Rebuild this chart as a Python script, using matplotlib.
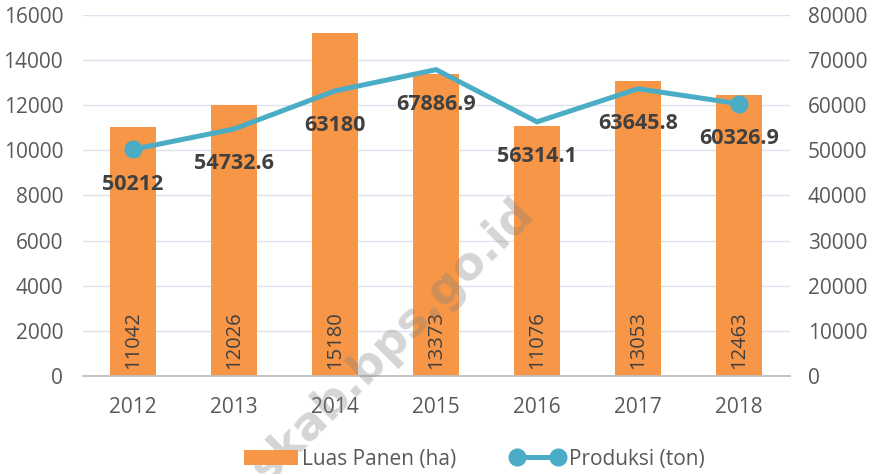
import matplotlib.pyplot as plt
from matplotlib.lines import Line2D
from matplotlib.patches import Patch

years = ["2012", "2013", "2014", "2015", "2016", "2017", "2018"]
luas_panen = [11042, 12026, 15180, 13373, 11076, 13053, 12463]
produksi = [50212, 54732.6, 63180, 67886.9, 56314.1, 63645.8, 60326.9]
produksi_labels = ["50212", "54732.6", "63180", "67886.9", "56314.1", "63645.8", "60326.9"]

BAR_COLOR = "#F79646"
LINE_COLOR = "#4BACC6"
TICK_COLOR = "#595959"
LABEL_COLOR = "#404040"
GRID_COLOR = "#DCE3EF"

plt.rcParams["font.family"] = ["Open Sans", "DejaVu Sans"]

fig = plt.figure(figsize=(8.76, 4.74), dpi=100)
ax = fig.add_axes([0.0942, 0.2068, 0.8071, 0.7616])
ax2 = ax.twinx()

x = list(range(len(years)))
ax.bar(x, luas_panen, width=0.455, color=BAR_COLOR, zorder=2)
for xi, v in zip(x, luas_panen):
    ax.text(xi, 330, str(v), rotation=90, ha="center", va="bottom",
            fontsize=14.5, color=LABEL_COLOR, zorder=3)

ax.set_xlim(-0.5, len(years) - 0.5)
ax.set_ylim(0, 16000)
ax.set_yticks(range(0, 16001, 2000))
ax.set_xticks(x)
ax.set_xticklabels(years)
ax.grid(axis="y", color=GRID_COLOR, linewidth=1, zorder=0)
ax.set_axisbelow(True)
for side in ["top", "left", "right"]:
    ax.spines[side].set_visible(False)
ax.spines["bottom"].set_color("#BFBFBF")
ax.spines["bottom"].set_linewidth(1.3)
ax.tick_params(axis="both", length=0, labelsize=15, colors=TICK_COLOR)
ax.tick_params(axis="x", pad=15)
ax.tick_params(axis="y", pad=14)

ax2.plot(x, produksi, color=LINE_COLOR, linewidth=3.6, marker="o",
         markersize=12, markevery=[0, len(x) - 1], zorder=4,
         solid_joinstyle="miter")
for xi, v, lab in zip(x, produksi, produksi_labels):
    ax2.annotate(lab, xy=(xi, v), xytext=(0, -25), textcoords="offset points",
                 ha="center", va="center", fontsize=15.5, fontweight="bold",
                 color=LABEL_COLOR, zorder=5)
ax2.set_ylim(0, 80000)
ax2.set_yticks(range(0, 80001, 10000))
for side in ["top", "left", "right", "bottom"]:
    ax2.spines[side].set_visible(False)
ax2.tick_params(axis="y", length=0, labelsize=15, colors=TICK_COLOR, pad=13)

# watermark, runs off the bottom edge like in the source image
fig.text(527 / 876, 1 - 206 / 474, "skab.bps.go.id", rotation=45,
         rotation_mode="anchor", ha="right", va="center", fontsize=33,
         fontweight="bold", color="#808080", alpha=0.33,
         family="DejaVu Sans", zorder=3)

handles = [
    Patch(facecolor=BAR_COLOR, edgecolor="none"),
    Line2D([0], [0], color=LINE_COLOR, linewidth=3.6, marker="o",
           markersize=12),
]
leg = fig.legend(handles, ["Luas Panen (ha)", "Produksi (ton)"],
                 loc="center", bbox_to_anchor=(474 / 876, 1 - 459 / 474),
                 ncol=2, frameon=False, fontsize=15, labelcolor=TICK_COLOR,
                 numpoints=2, handlelength=2.6, handletextpad=0.2,
                 columnspacing=2.6)
leg.set_zorder(6)

fig.savefig("out.png", dpi=100)
